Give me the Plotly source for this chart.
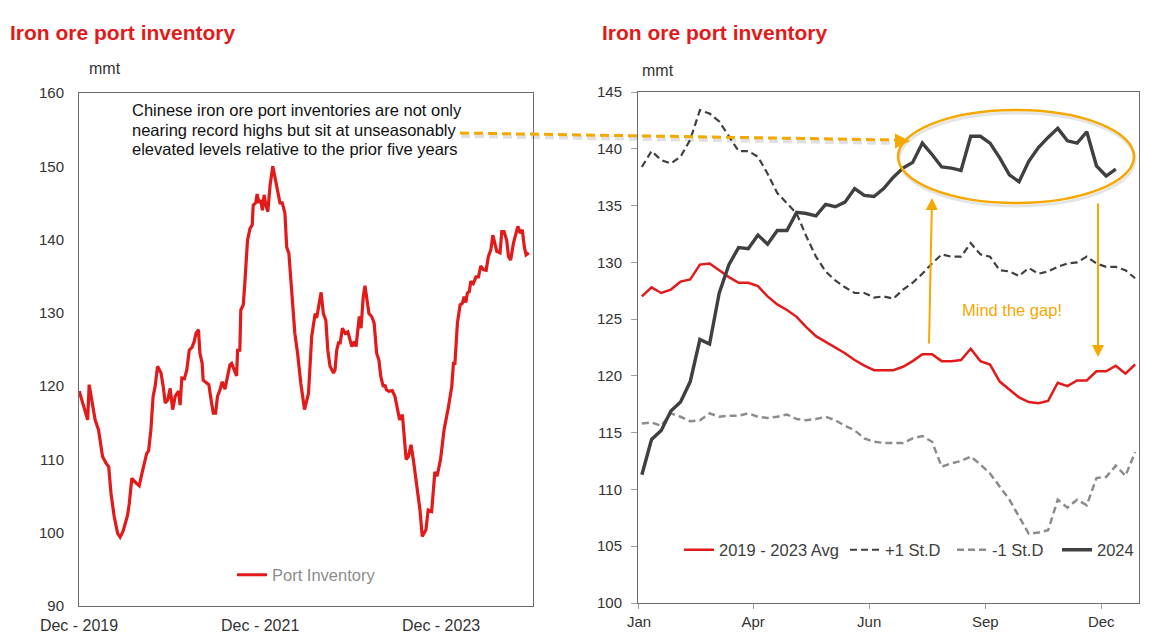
import plotly.graph_objects as go

# ---------------- Left chart data: China iron ore port inventory (mmt) ----------------
port_dates = [
    "2019-12-02", "2019-12-16", "2019-12-29", "2020-01-05", "2020-01-11", "2020-01-25", "2020-02-04",
    "2020-02-18", "2020-03-05", "2020-03-19", "2020-03-30", "2020-04-08", "2020-04-21", "2020-05-05",
    "2020-05-15", "2020-05-27", "2020-06-14", "2020-06-21", "2020-07-01", "2020-07-18", "2020-07-31",
    "2020-08-11", "2020-08-20", "2020-08-30", "2020-09-07", "2020-09-16", "2020-09-25", "2020-10-03",
    "2020-10-13", "2020-10-27", "2020-11-05", "2020-11-13", "2020-11-23", "2020-12-03", "2020-12-13",
    "2020-12-23", "2021-01-06", "2021-01-12", "2021-01-19", "2021-01-29", "2021-02-08", "2021-02-18",
    "2021-03-01", "2021-03-10", "2021-03-17", "2021-03-27", "2021-04-02", "2021-04-11", "2021-04-15",
    "2021-04-29", "2021-05-08", "2021-05-19", "2021-05-26", "2021-06-04", "2021-06-12", "2021-06-22",
    "2021-07-01", "2021-07-12", "2021-07-19", "2021-08-01", "2021-08-08", "2021-08-18", "2021-08-28",
    "2021-09-01", "2021-09-10", "2021-09-14", "2021-09-24", "2021-10-01", "2021-10-11", "2021-10-21",
    "2021-10-30", "2021-11-03", "2021-11-13", "2021-11-19", "2021-11-26", "2021-12-03", "2021-12-10",
    "2021-12-17", "2021-12-24", "2022-01-01", "2022-01-10", "2022-01-21", "2022-01-30", "2022-02-10",
    "2022-02-19", "2022-02-28", "2022-03-11", "2022-03-18", "2022-03-27", "2022-04-07", "2022-04-20",
    "2022-05-01", "2022-05-14", "2022-05-29", "2022-06-14", "2022-06-27", "2022-07-11", "2022-07-17",
    "2022-07-24", "2022-08-04", "2022-08-13", "2022-08-23", "2022-08-31", "2022-09-09", "2022-09-23",
    "2022-09-29", "2022-10-06", "2022-10-13", "2022-10-20", "2022-10-29", "2022-11-09", "2022-11-20",
    "2022-12-06", "2022-12-16", "2022-12-23", "2022-12-30", "2023-01-05", "2023-01-12", "2023-01-21",
    "2023-01-28", "2023-02-04", "2023-02-13", "2023-02-24", "2023-03-06", "2023-03-16", "2023-03-25",
    "2023-04-02", "2023-04-12", "2023-04-18", "2023-04-25", "2023-05-05", "2023-05-18", "2023-05-29",
    "2023-06-09", "2023-06-17", "2023-06-28", "2023-07-06", "2023-07-13", "2023-07-22", "2023-08-02",
    "2023-08-11", "2023-08-25", "2023-09-07", "2023-09-16", "2023-10-01", "2023-10-10", "2023-10-24",
    "2023-11-06", "2023-11-15", "2023-11-29", "2023-12-13", "2023-12-31", "2024-01-13", "2024-01-20",
    "2024-01-26", "2024-02-05", "2024-02-16", "2024-02-25", "2024-03-03", "2024-03-10", "2024-03-16",
    "2024-03-24", "2024-03-30", "2024-04-09", "2024-04-20", "2024-04-30", "2024-05-09", "2024-05-20",
    "2024-05-31", "2024-06-09", "2024-06-19", "2024-06-27", "2024-07-06", "2024-07-13", "2024-07-26",
    "2024-08-02", "2024-08-11", "2024-08-22", "2024-08-29", "2024-09-07", "2024-09-18", "2024-09-28",
    "2024-10-06", "2024-10-15", "2024-10-24", "2024-11-01", "2024-11-08", "2024-11-19",
]
port_values = [
    119.3, 117.7, 116.3, 115.4, 120.2, 117.7, 115.4,
    114.0, 110.4, 109.5, 109.0, 105.4, 102.2, 99.9,
    99.4, 100.2, 102.4, 104.0, 107.4, 106.8, 106.4,
    108.1, 109.2, 110.8, 111.2, 114.0, 118.6, 119.9,
    122.7, 121.8, 119.9, 117.7, 118.1, 119.7, 116.8,
    118.6, 119.3, 117.4, 121.1, 121.0, 122.2, 124.9,
    125.3, 126.1, 127.2, 127.7, 124.5, 123.1, 120.8,
    120.4, 120.2, 117.7, 116.3, 116.3, 118.6, 119.5,
    120.6, 119.6, 120.8, 122.9, 123.1, 122.2, 121.4,
    124.9, 124.9, 130.4, 131.1, 134.5, 139.9, 141.5,
    142.0, 144.7, 145.0, 146.2, 145.0, 145.4, 144.0,
    146.1, 144.7, 143.8, 147.4, 150.0, 148.6, 146.8,
    145.0, 145.0, 143.6, 139.0, 138.1, 133.1, 127.2,
    124.5, 120.4, 116.8, 119.0, 126.8, 129.9, 129.3,
    130.9, 132.8, 129.9, 129.0, 124.9, 122.7, 121.8,
    122.2, 124.9, 125.9, 125.9, 127.9, 127.2, 127.4,
    125.4, 126.1, 125.4, 127.7, 129.5, 127.9, 132.2,
    133.7, 132.2, 129.9, 129.5, 128.6, 124.5, 123.6,
    121.3, 119.9, 120.2, 119.5, 119.3, 119.4, 118.6,
    116.8, 115.4, 116.1, 113.1, 110.0, 110.4, 112.0,
    110.0, 106.8, 103.1, 99.5, 100.4, 103.1, 102.9,
    108.3, 107.7, 110.0, 114.0, 117.2, 119.9, 123.1,
    123.1, 128.6, 131.1, 131.3, 132.2, 131.4, 132.7,
    132.9, 134.3, 134.0, 134.9, 134.9, 136.4, 135.9,
    135.8, 137.7, 138.6, 140.6, 139.5, 138.4, 138.2,
    141.1, 141.1, 139.9, 137.7, 137.2, 139.5, 140.9,
    141.8, 140.9, 141.3, 139.0, 137.9, 138.2,
]
left_tick_dates = ["2019-12-01", "2021-12-01", "2023-12-01"]
left_tick_labels = ["Dec - 2019", "Dec - 2021", "Dec - 2023"]

# ---------------- Right chart data: seasonal comparison by week ----------------
weeks = list(range(1, 53))
avg_2019_2023 = [
    127.0, 127.8, 127.3, 127.6, 128.3, 128.5, 129.8, 129.9, 129.3, 128.7,
    128.2, 128.2, 127.9, 127.0, 126.3, 125.8, 125.2, 124.3, 123.5, 123.0,
    122.5, 122.0, 121.4, 120.9, 120.5, 120.5, 120.5, 120.8, 121.3, 121.9,
    121.9, 121.3, 121.3, 121.4, 122.4, 121.3, 121.0, 119.5, 118.8, 118.1,
    117.7, 117.6, 117.8, 119.4, 119.1, 119.6, 119.6, 120.4, 120.4, 120.9,
    120.2, 121.0,
]
plus_1sd = [
    138.4, 139.8, 139.0, 138.7, 139.3, 140.8, 143.4, 143.1, 142.4, 141.1,
    139.8, 139.8, 139.3, 137.8, 136.1, 135.2, 134.3, 132.3, 130.5, 129.2,
    128.4, 127.8, 127.3, 127.3, 126.9, 127.0, 126.8, 127.6, 128.2, 129.0,
    129.9, 130.7, 130.5, 130.5, 131.7, 130.7, 130.5, 129.3, 129.2, 128.8,
    129.5, 129.0, 129.2, 129.6, 129.9, 130.0, 130.5, 129.9, 129.6, 129.6,
    129.3, 128.6,
]
minus_1sd = [
    115.8, 115.9, 115.6, 116.7, 116.4, 116.0, 116.1, 116.7, 116.4, 116.5,
    116.5, 116.7, 116.4, 116.3, 116.4, 116.6, 116.2, 116.1, 116.2, 116.4,
    116.1, 115.6, 115.2, 114.5, 114.2, 114.1, 114.1, 114.1, 114.5, 114.7,
    114.2, 112.0, 112.3, 112.5, 112.9, 112.2, 111.4, 110.3, 109.1, 107.6,
    106.1, 106.2, 106.4, 109.1, 108.4, 109.1, 108.6, 111.0, 111.1, 112.1,
    111.2, 113.3,
]
y2024 = [
    111.3, 114.4, 115.2, 116.9, 117.7, 119.5, 123.2, 122.8, 127.3, 129.8,
    131.3, 131.2, 132.4, 131.6, 132.8, 132.8, 134.4, 134.3, 134.1, 135.1,
    134.9, 135.3, 136.5, 135.9, 135.8, 136.5, 137.5, 138.3, 138.8, 140.5,
    139.5, 138.4, 138.3, 138.1, 141.1, 141.1, 140.5, 139.2, 137.7, 137.1,
    138.9, 140.1, 141.0, 141.8, 140.7, 140.5, 141.5, 138.5, 137.6, 138.2,
]
right_tick_weeks = [0.7, 12.5, 24.5, 36.5, 48.5]
right_tick_labels = ["Jan", "Apr", "Jun", "Sep", "Dec"]

# ---------------- Styles ----------------
RED = "#e21a1a"
DARK = "#404040"
GREY = "#8c8c8c"
ORANGE = "#f5a800"
TXT = "#333333"
AXLINE = "#6b6b6b"
FONT = "Arial, Liberation Sans, sans-serif"

# The page body keeps an 8px margin, so the figure is drawn 8px smaller and
# all page positions below are given in page pixels and shifted by that offset.
OFF = 8
W, H = 1153 - OFF, 643 - OFF


def px(x):
    return (x - OFF) / W


def py(y):
    return 1 - (y - OFF) / H


fig = go.Figure()

fig.add_trace(go.Scatter(
    x=port_dates, y=port_values, mode="lines", name="Port Inventory",
    line=dict(color=RED, width=3.2), xaxis="x", yaxis="y", legend="legend",
))

fig.add_trace(go.Scatter(
    x=weeks, y=avg_2019_2023, mode="lines", name="2019 - 2023 Avg",
    line=dict(color=RED, width=2.5), xaxis="x2", yaxis="y2", legend="legend2",
))
fig.add_trace(go.Scatter(
    x=weeks, y=plus_1sd, mode="lines", name="+1 St.D",
    line=dict(color=DARK, width=2.2, dash="7px,4px"), xaxis="x2", yaxis="y2", legend="legend3",
))
fig.add_trace(go.Scatter(
    x=weeks, y=minus_1sd, mode="lines", name="-1 St.D",
    line=dict(color=GREY, width=2.5, dash="7px,4px"), xaxis="x2", yaxis="y2", legend="legend4",
))
fig.add_trace(go.Scatter(
    x=weeks[:len(y2024)], y=y2024, mode="lines", name="2024",
    line=dict(color=DARK, width=3.4), xaxis="x2", yaxis="y2", legend="legend5",
))

axis_common = dict(showline=True, linecolor=AXLINE, linewidth=1, mirror=True,
                   showgrid=False, zeroline=False, automargin=False)


def legend_at(x_text, y_mid, color):
    # legend text starts 40px right of the legend's x position
    return dict(x=px(x_text - 40), y=py(y_mid), xanchor="left", yanchor="middle",
                orientation="h", bgcolor="rgba(0,0,0,0)", borderwidth=0,
                font=dict(family=FONT, size=16.5, color=color))


fig.update_layout(
    template="none",
    width=W, height=H, autosize=False,
    margin=dict(l=0, r=0, t=0, b=0, pad=0),
    paper_bgcolor="white", plot_bgcolor="white",
    font=dict(family=FONT, color=TXT),
    xaxis=dict(domain=[px(79), px(533)], type="date",
               range=["2019-12-01", "2024-12-06"],
               tickvals=left_tick_dates, ticktext=left_tick_labels,
               ticks="", anchor="y", ticklabelstandoff=5,
               tickfont=dict(family=FONT, size=16, color=TXT), **axis_common),
    yaxis=dict(domain=[py(606), py(93)], range=[90, 160], dtick=10,
               ticks="", anchor="x", ticklabelstandoff=11,
               tickfont=dict(family=FONT, size=15, color=TXT), **axis_common),
    xaxis2=dict(domain=[px(638), px(1139)], range=[0.6, 52.4],
                tickvals=right_tick_weeks, ticktext=right_tick_labels,
                ticks="outside", ticklen=5, tickcolor="#a0a0a0",
                tickfont=dict(family=FONT, size=15, color=TXT),
                anchor="y2", **axis_common),
    yaxis2=dict(domain=[py(603), py(92)], range=[100, 145], dtick=5,
                ticks="outside", ticklen=6, tickcolor="#a0a0a0",
                tickfont=dict(family=FONT, size=15, color=TXT),
                anchor="x2", ticklabelstandoff=6, **axis_common),
    legend=legend_at(272, 575, "#8c8c8c"),
    legend2=legend_at(719, 550, DARK),
    legend3=legend_at(885, 550, DARK),
    legend4=legend_at(992, 550, DARK),
    legend5=legend_at(1097, 550, DARK),
    showlegend=True,
)

annotations = [
    dict(text="<b>Iron ore port inventory</b>", x=px(8), y=py(32), xanchor="left", yanchor="middle",
         font=dict(family=FONT, size=21, color=RED)),
    dict(text="<b>Iron ore port inventory</b>", x=px(600), y=py(32), xanchor="left", yanchor="middle",
         font=dict(family=FONT, size=21, color=RED)),
    dict(text="mmt", x=px(87), y=py(69), xanchor="left", yanchor="middle",
         font=dict(family=FONT, size=16, color=TXT)),
    dict(text="mmt", x=px(640), y=py(71), xanchor="left", yanchor="middle",
         font=dict(family=FONT, size=16, color=TXT)),
    dict(text="Chinese iron ore port inventories are not only", x=px(130), y=py(110),
         xanchor="left", yanchor="middle", font=dict(family=FONT, size=16.5, color="#111111")),
    dict(text="nearing record highs but sit at unseasonably", x=px(130), y=py(130),
         xanchor="left", yanchor="middle", font=dict(family=FONT, size=16.5, color="#111111")),
    dict(text="elevated levels relative to the prior five years", x=px(130), y=py(149),
         xanchor="left", yanchor="middle", font=dict(family=FONT, size=16.5, color="#111111")),
    dict(text="Mind the gap!", x=px(1012), y=py(310), xanchor="center", yanchor="middle",
         font=dict(family=FONT, size=16.5, color=ORANGE)),
    # arrowhead of dashed connector
    dict(text="", x=px(910), y=py(141), ax=-14, ay=0, showarrow=True,
         arrowhead=2, arrowsize=1, arrowwidth=3, arrowcolor=ORANGE),
    # up arrow
    dict(text="", x=px(932), y=py(198), ax=-3, ay=147, showarrow=True,
         arrowhead=2, arrowsize=1.2, arrowwidth=2, arrowcolor=ORANGE),
    # down arrow
    dict(text="", x=px(1098), y=py(357), ax=0, ay=-155, showarrow=True,
         arrowhead=2, arrowsize=1.2, arrowwidth=2, arrowcolor=ORANGE),
]
for a in annotations:
    a.setdefault("showarrow", False)
    a.update(xref="paper", yref="paper")
    if a.get("showarrow"):
        a.update(axref="pixel", ayref="pixel")
fig.update_layout(annotations=annotations)

shapes = [
    # shadow of dashed connector
    dict(type="line", xref="paper", yref="paper", x0=px(461), y0=py(136), x1=px(898), y1=py(143),
         line=dict(color="rgba(0,0,0,0.12)", width=4, dash="9px,5px")),
    dict(type="line", xref="paper", yref="paper", x0=px(460), y0=py(133), x1=px(898), y1=py(140),
         line=dict(color=ORANGE, width=3, dash="9px,5px")),
    # shadow ellipse
    dict(type="circle", xref="paper", yref="paper", x0=px(899), x1=px(1135), y0=py(206), y1=py(113),
         line=dict(color="rgba(0,0,0,0.10)", width=3)),
    dict(type="circle", xref="paper", yref="paper", x0=px(898), x1=px(1134), y0=py(203), y1=py(110),
         line=dict(color=ORANGE, width=2.5)),
]
fig.update_layout(shapes=shapes)

fig.write_html("out.html")
